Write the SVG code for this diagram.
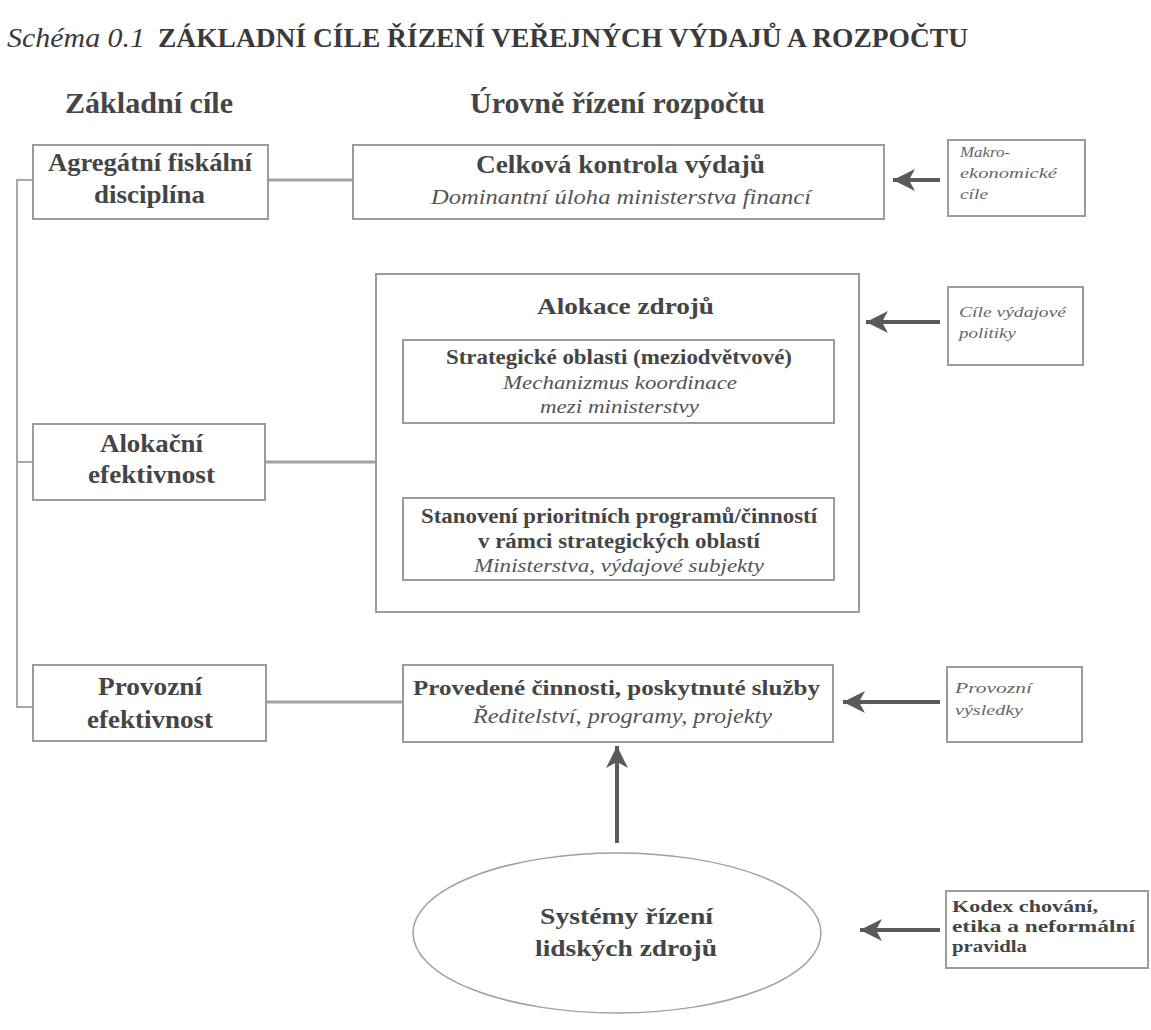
<svg xmlns="http://www.w3.org/2000/svg" width="1151" height="1030" viewBox="0 0 1151 1030">
<style>
text{font-family:"Liberation Serif","Times New Roman",serif;fill:#454545}
.b{font-weight:bold}
.i{font-style:italic;fill:#555}
.box{fill:#fff;stroke:#9c9c9c;stroke-width:2}
.con{stroke:#a2a2a2;stroke-width:3;fill:none}
.tree{stroke:#a8a8a8;stroke-width:2;fill:none}
.arr{stroke:#5a5a5a;stroke-width:4;fill:none;marker-end:url(#ah)}
</style>
<defs>
<marker id="ah" markerUnits="userSpaceOnUse" markerWidth="24" markerHeight="22" refX="22" refY="11" orient="auto">
<path d="M0,0 L22,11 L0,22 L6,11 Z" fill="#5a5a5a"/>
</marker>
</defs>
<rect width="1151" height="1030" fill="#fff"/>
<g id="title">
<text class="i" x="7" y="47" style="font-size:27px;fill:#3a3a3a" textLength="138" lengthAdjust="spacingAndGlyphs">Schéma 0.1</text>
<text class="b" x="158" y="47" style="font-size:27px;fill:#3a3a3a" textLength="810" lengthAdjust="spacingAndGlyphs">ZÁKLADNÍ CÍLE ŘÍZENÍ VEŘEJNÝCH VÝDAJŮ A ROZPOČTU</text>
</g>
<g id="headers">
<text class="b" x="65" y="113" style="font-size:30px" textLength="168" lengthAdjust="spacingAndGlyphs">Základní cíle</text>
<text class="b" x="470" y="113" style="font-size:30px" textLength="295" lengthAdjust="spacingAndGlyphs">Úrovně řízení rozpočtu</text>
</g>
<g id="connectors">
<path class="tree" d="M33,180 H17 V707 H33 M17,462 H33"/>
<path class="con" d="M268,180 H353 M265,462 H376 M266,702 H403"/>
<path class="arr" d="M940,180 H893"/>
<path class="arr" d="M940,322 H866"/>
<path class="arr" d="M940,702 H843"/>
<path class="arr" d="M940,930 H860"/>
<path class="arr" d="M617,843 V746"/>
</g>
<g id="n-agregatni">
<rect class="box" x="33" y="145" width="235" height="74"/>
<text class="b" x="48" y="171" style="font-size:25px" textLength="204" lengthAdjust="spacingAndGlyphs">Agregátní fiskální</text>
<text class="b" x="94" y="203" style="font-size:25px" textLength="111" lengthAdjust="spacingAndGlyphs">disciplína</text>
</g>
<g id="n-celkova">
<rect class="box" x="353" y="145" width="531" height="74"/>
<text class="b" x="476" y="173" style="font-size:25px" textLength="289" lengthAdjust="spacingAndGlyphs">Celková kontrola výdajů</text>
<text class="i" x="431" y="204" style="font-size:21px" textLength="380" lengthAdjust="spacingAndGlyphs">Dominantní úloha ministerstva financí</text>
</g>
<g id="n-makro">
<rect class="box" x="948" y="140" width="137" height="76"/>
<text class="i" x="960" y="157" style="font-size:15px;fill:#666" textLength="50" lengthAdjust="spacingAndGlyphs">Makro-</text>
<text class="i" x="960" y="178" style="font-size:15px;fill:#666" textLength="97" lengthAdjust="spacingAndGlyphs">ekonomické</text>
<text class="i" x="960" y="199" style="font-size:15px;fill:#666" textLength="28" lengthAdjust="spacingAndGlyphs">cíle</text>
</g>
<g id="n-alokace">
<rect class="box" x="376" y="274" width="483" height="338"/>
<text class="b" x="537" y="314" style="font-size:24px" textLength="177" lengthAdjust="spacingAndGlyphs">Alokace zdrojů</text>
</g>
<g id="n-strategicke">
<rect class="box" x="403" y="340" width="431" height="83"/>
<text class="b" x="446" y="364" style="font-size:20px" textLength="346" lengthAdjust="spacingAndGlyphs">Strategické oblasti (meziodvětvové)</text>
<text class="i" x="503" y="389" style="font-size:18px" textLength="234" lengthAdjust="spacingAndGlyphs">Mechanizmus koordinace</text>
<text class="i" x="540" y="413" style="font-size:18px" textLength="159" lengthAdjust="spacingAndGlyphs">mezi ministerstvy</text>
</g>
<g id="n-stanoveni">
<rect class="box" x="403" y="498" width="431" height="82"/>
<text class="b" x="421" y="523" style="font-size:20px" textLength="396" lengthAdjust="spacingAndGlyphs">Stanovení prioritních programů/činností</text>
<text class="b" x="478" y="548" style="font-size:20px" textLength="282" lengthAdjust="spacingAndGlyphs">v rámci strategických oblastí</text>
<text class="i" x="474" y="572" style="font-size:18px" textLength="290" lengthAdjust="spacingAndGlyphs">Ministerstva, výdajové subjekty</text>
</g>
<g id="n-cile">
<rect class="box" x="948" y="287" width="135" height="78"/>
<text class="i" x="959" y="317" style="font-size:15px;fill:#666" textLength="107" lengthAdjust="spacingAndGlyphs">Cíle výdajové</text>
<text class="i" x="959" y="338" style="font-size:15px;fill:#666" textLength="57" lengthAdjust="spacingAndGlyphs">politiky</text>
</g>
<g id="n-alokacni">
<rect class="box" x="33" y="424" width="232" height="76"/>
<text class="b" x="100" y="452" style="font-size:25px" textLength="103" lengthAdjust="spacingAndGlyphs">Alokační</text>
<text class="b" x="88" y="483" style="font-size:25px" textLength="127" lengthAdjust="spacingAndGlyphs">efektivnost</text>
</g>
<g id="n-provozni">
<rect class="box" x="33" y="665" width="233" height="76"/>
<text class="b" x="98" y="695" style="font-size:25px" textLength="104" lengthAdjust="spacingAndGlyphs">Provozní</text>
<text class="b" x="87" y="728" style="font-size:25px" textLength="126" lengthAdjust="spacingAndGlyphs">efektivnost</text>
</g>
<g id="n-provedene">
<rect class="box" x="403" y="665" width="430" height="77"/>
<text class="b" x="413" y="695" style="font-size:21px" textLength="407" lengthAdjust="spacingAndGlyphs">Provedené činnosti, poskytnuté služby</text>
<text class="i" x="473" y="723" style="font-size:20px" textLength="299" lengthAdjust="spacingAndGlyphs">Ředitelství, programy, projekty</text>
</g>
<g id="n-vysledky">
<rect class="box" x="947" y="667" width="135" height="75"/>
<text class="i" x="955" y="693" style="font-size:15px;fill:#666" textLength="77" lengthAdjust="spacingAndGlyphs">Provozní</text>
<text class="i" x="955" y="715" style="font-size:15px;fill:#666" textLength="68" lengthAdjust="spacingAndGlyphs">výsledky</text>
</g>
<g id="n-systemy">
<ellipse cx="617" cy="933" rx="204" ry="80" fill="#fff" stroke="#a0a0a0" stroke-width="1.5"/>
<text class="b" x="540" y="924" style="font-size:24px" textLength="173" lengthAdjust="spacingAndGlyphs">Systémy řízení</text>
<text class="b" x="535" y="956" style="font-size:24px" textLength="182" lengthAdjust="spacingAndGlyphs">lidských zdrojů</text>
</g>
<g id="n-kodex">
<rect class="box" x="946" y="891" width="202" height="77"/>
<text class="b" x="952" y="912" style="font-size:16px" textLength="146" lengthAdjust="spacingAndGlyphs">Kodex chování,</text>
<text class="b" x="952" y="932" style="font-size:16px" textLength="183" lengthAdjust="spacingAndGlyphs">etika a neformální</text>
<text class="b" x="952" y="952" style="font-size:16px" textLength="75" lengthAdjust="spacingAndGlyphs">pravidla</text>
</g>
</svg>
